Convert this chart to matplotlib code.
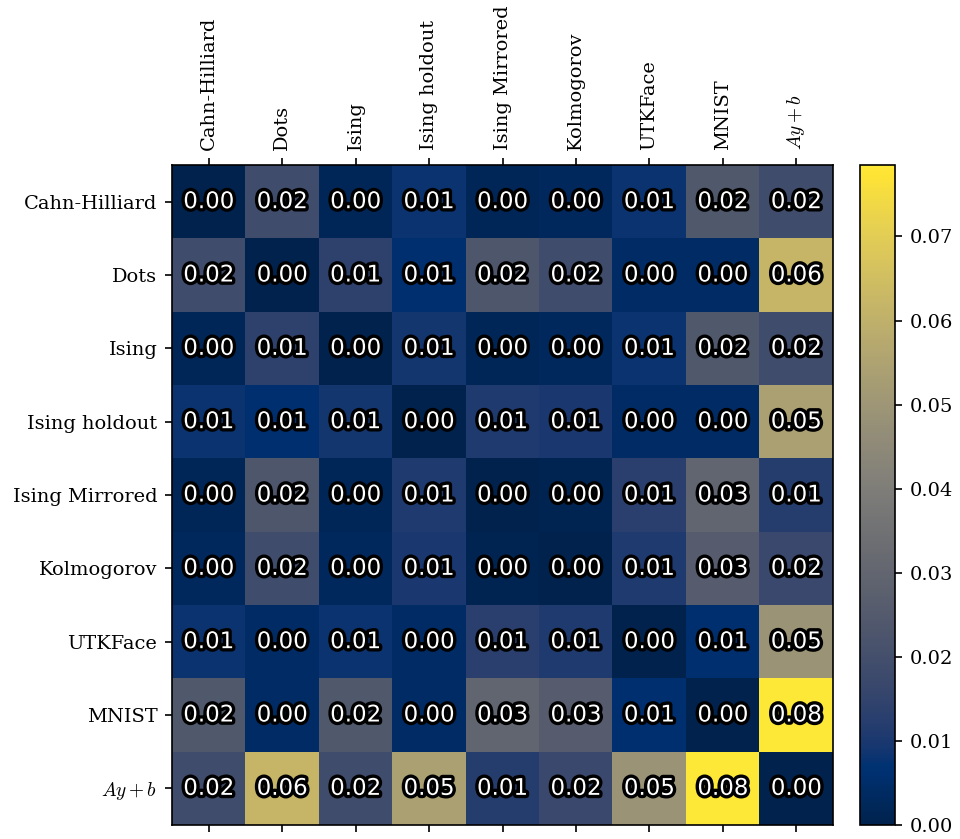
import matplotlib
matplotlib.use("Agg")
import matplotlib.pyplot as plt
import matplotlib.patheffects as pe
import numpy as np

plt.rcParams["font.family"] = ["DejaVu Serif"]
plt.rcParams["mathtext.fontset"] = "cm"

labels = ["Cahn-Hilliard", "Dots", "Ising", "Ising holdout", "Ising Mirrored",
          "Kolmogorov", "UTKFace", "MNIST", "$Ay + b$"]

row_cahn = [0.000, 0.019, 0.002, 0.008, 0.002, 0.003, 0.008, 0.024, 0.019]
row_dots = [0.019, 0.000, 0.014, 0.006, 0.023, 0.019, 0.004, 0.004, 0.062]
row_ising = [0.002, 0.014, 0.000, 0.009, 0.002, 0.003, 0.008, 0.024, 0.019]
row_hold = [0.008, 0.006, 0.009, 0.000, 0.011, 0.010, 0.004, 0.004, 0.054]
row_mirr = [0.002, 0.023, 0.002, 0.011, 0.000, 0.001, 0.013, 0.030, 0.012]
row_kolm = [0.003, 0.019, 0.003, 0.010, 0.001, 0.000, 0.011, 0.026, 0.017]
row_utk = [0.008, 0.004, 0.008, 0.004, 0.013, 0.011, 0.000, 0.006, 0.049]
row_mnist = [0.024, 0.004, 0.024, 0.004, 0.030, 0.026, 0.006, 0.000, 0.0785]
row_affine = [0.019, 0.062, 0.019, 0.054, 0.012, 0.017, 0.049, 0.0785, 0.000]

matrix = np.array([row_cahn, row_dots, row_ising, row_hold, row_mirr,
                   row_kolm, row_utk, row_mnist, row_affine])

fig = plt.figure(figsize=(6.4, 839 / 150), dpi=150)
ax = fig.add_axes([172 / 960, 14 / 839, 661 / 960, 660 / 839])
cax = fig.add_axes([860 / 960, 14 / 839, 35 / 960, 660 / 839])

im = ax.imshow(matrix, cmap="cividis", vmin=0, vmax=matrix.max(), aspect="auto")

n = len(labels)
ax.set_xticks(range(n))
ax.set_yticks(range(n))
ax.set_yticklabels(labels, fontsize=9.3)
ax.set_xticklabels(labels, fontsize=9.3, rotation=90)
ax.tick_params(axis="x", top=True, labeltop=True, bottom=True, labelbottom=False)

for i in range(n):
    for j in range(n):
        ax.text(j, i, f"{matrix[i, j]:.2f}", ha="center", va="center",
                color="white", fontsize=11, family="DejaVu Sans",
                path_effects=[pe.withStroke(linewidth=3.2, foreground="black")])

cb = fig.colorbar(im, cax=cax)
cb.set_ticks([0.0, 0.01, 0.02, 0.03, 0.04, 0.05, 0.06, 0.07])
cb.ax.tick_params(labelsize=9.3)

fig.savefig("out.png", dpi=150)
